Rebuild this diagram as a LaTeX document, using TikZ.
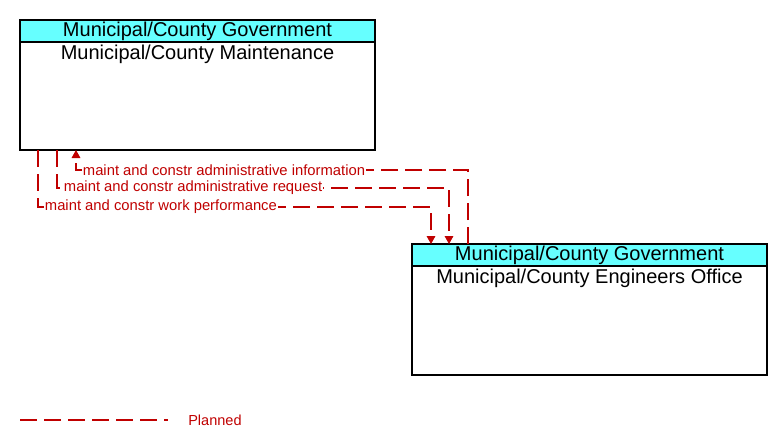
\documentclass[tikz,border=0pt]{standalone}
\usepackage{fontspec}
\setmainfont{Liberation Sans}
\usetikzlibrary{arrows.meta}
\definecolor{plan}{RGB}{192,0,0}
\definecolor{hdr}{RGB}{102,255,255}
\begin{document}
\begin{tikzpicture}[x=0.75pt,y=-0.75pt,
  box/.style={draw=black,line width=0.8pt,fill=white},
  head/.style={draw=black,line width=0.8pt,fill=hdr},
  flow/.style={draw=plan,line width=0.8pt,dash pattern=on 12.75pt off 5.25pt},
  tip/.style={-{Triangle[length=6pt,width=6.5pt]}},
  lbl/.style={text=plan,font=\fontsize{11.1pt}{13pt}\selectfont,fill=white,inner sep=0.5pt,anchor=west},
  ttl/.style={font=\fontsize{15pt}{17pt}\selectfont,inner sep=0pt}]
\useasboundingbox (0,0) rectangle (782,447);
% box 1
\draw[box] (20,20) rectangle (375,150);
\draw[head] (20,20) rectangle (375,42);
\node[ttl] (h1) at (197.5,31) {Municipal/County Government};
\node[ttl] (t1) at (197.5,54) {Municipal/County Maintenance};
\coordinate (b1i) at (76,150);
\coordinate (b1r) at (57,150);
\coordinate (b1w) at (38,150);
% box 2
\draw[box] (412,244) rectangle (767,375);
\draw[head] (412,244) rectangle (767,266);
\node[ttl] (h2) at (589.5,255) {Municipal/County Government};
\node[ttl] (t2) at (589.5,278) {Municipal/County Engineers Office};
\coordinate (b2i) at (468,244);
\coordinate (b2r) at (449,244);
\coordinate (b2w) at (431,244);
% flows
\draw[flow,tip] (b2i) -- (468,170) -- (76,170) -- (b1i);
\node[lbl] (li) at (82,170) {maint and constr administrative information};
\draw[flow,tip] (b1r) -- (57,188) -- (449,188) -- (b2r);
\node[lbl] (lr) at (63,188) {maint and constr administrative request};
\draw[flow,tip] (b1w) -- (38,207) -- (431,207) -- (b2w);
\node[lbl] (lw) at (44,207) {maint and constr work performance};
% legend
\coordinate (lg1) at (20,420);
\coordinate (lg2) at (168,420);
\draw[flow] (lg1) -- (lg2);
\node[text=plan,font=\fontsize{10.9pt}{12pt}\selectfont,anchor=west,inner sep=0pt] (lp) at (188,420) {Planned};
\end{tikzpicture}
\end{document}
